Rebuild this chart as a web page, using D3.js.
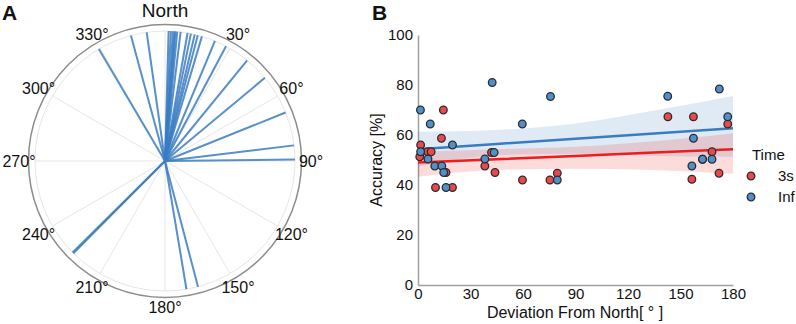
<!DOCTYPE html>
<html lang="en">
<head>
    <meta charset="UTF-8">
    <title></title>
    <style type="text/css">
        html, body { padding:0; margin:0; background:#fff; }
        text { font-family: "Liberation Sans", Arial, sans-serif; fill:#111; }
    </style>
</head>
<body>
<script src="https://d3js.org/d3.v7.min.js"></script>
<script type="text/javascript">
    var width = 796,
        height = 324;

    // panel A: heading directions (deg, clockwise from north)
    var headings = [329.4, 344.8, 351.9, 1.6, 2.6, 3.5, 4.2, 4.6, 5.4, 6.9,
                    10, 11.5, 13.2, 14.6, 16.5, 22.6, 28, 39.2, 50.2, 68.1,
                    83.1, 89.3, 165.3, 170.5, 224.8, 225.3];
    var angleTicks = [30, 60, 90, 120, 150, 180, 210, 240, 270, 300, 330];

    // panel B: deviation from north vs accuracy
    var dev3s = [1.5, 1, 5.5, 7.5, 14.5, 13.4, 10, 16, 19.7, 38.2, 42, 44,
                 59.7, 75.4, 79.6, 142.8, 157.4, 156.5, 162.6, 168, 172, 177];
    var acc3s = [56, 51.3, 53.3, 53.3, 70, 58.7, 39, 45, 39, 47.6, 53, 45,
                 42, 42, 44.7, 67.3, 67.3, 42.3, 50.3, 53.3, 44.7, 64.4];
    var devInf = [1.4, 7, 19.7, 1.5, 5.7, 9.6, 13.6, 14.7, 16, 38.2, 43.5, 42.4,
                  59.6, 75.7, 79.6, 142.7, 172.2, 177, 157.4, 156.5, 162.6, 168];
    var accInf = [70, 64.4, 56, 53.3, 50.4, 47.6, 47.6, 45, 39, 50.4, 53, 81,
                  64.4, 75.4, 42, 75.5, 78.4, 67.3, 58.7, 47.6, 50.3, 50.3];

    // regression fits and confidence bands, read at these x positions
    var fitX = [0, 45, 90, 135, 180];
    var fit3s = [49, 50.3, 51.6, 53, 54.3];
    var lo3s = [43.3, 46, 46.5, 46, 44.5];
    var hi3s = [53.3, 54.3, 55.3, 57.5, 60.7];
    var fitInf = [54.3, 56.4, 58.5, 60.6, 62.7];
    var loInf = [47.3, 51.9, 52.5, 51.6, 51.3];
    var hiInf = [61.3, 62.0, 64.6, 69.8, 75.6];

    var xTicks = [0, 30, 60, 90, 120, 150, 180],
        yTicks = [0, 20, 40, 60, 80, 100];

    var red = '#ee1c1c', blue = '#3a7cc2';
    var redDot = '#e9484c', blueDot = '#4f90cc';

    var svg = d3.select('body').append('svg')
        .attr('width', width)
        .attr('height', height);

    // ---------- panel A ----------
    var cx = 165, cy = 161;
    var rScale = d3.scaleLinear().domain([0, 1]).range([0, 130]);
    var pa = svg.append('g').attr('transform', 'translate(' + cx + ',' + cy + ')');

    function polar(deg, r) {
        var a = deg * Math.PI / 180;
        return [Math.sin(a) * r, -Math.cos(a) * r];
    }

    // grid spokes
    pa.selectAll('line.grid')
        .data([0].concat(angleTicks))
        .enter().append('line')
        .attr('class', 'grid')
        .attr('x1', 0).attr('y1', 0)
        .attr('x2', function(d) { return polar(d, rScale(1))[0]; })
        .attr('y2', function(d) { return polar(d, rScale(1))[1]; })
        .attr('stroke', '#e6e6e6')
        .attr('stroke-width', 1);

    pa.append('circle')
        .attr('r', rScale(1))
        .attr('fill', 'none')
        .attr('stroke', '#e6e6e6');

    pa.append('circle')
        .attr('r', rScale(1.05))
        .attr('fill', 'none')
        .attr('stroke', '#8c8c8c')
        .attr('stroke-width', 1.5);

    pa.selectAll('line.heading')
        .data(headings)
        .enter().append('line')
        .attr('class', 'heading')
        .attr('x1', 0).attr('y1', 0)
        .attr('x2', function(d) { return polar(d, rScale(1))[0]; })
        .attr('y2', function(d) { return polar(d, rScale(1))[1]; })
        .attr('stroke', blue)
        .attr('stroke-opacity', 0.85)
        .attr('stroke-width', 2);

    pa.selectAll('text.tick')
        .data(angleTicks)
        .enter().append('text')
        .attr('class', 'tick')
        .attr('x', function(d) { return polar(d, 146)[0]; })
        .attr('y', function(d) { return polar(d, 146)[1]; })
        .attr('dy', '0.36em')
        .attr('text-anchor', 'middle')
        .style('font-size', '16px')
        .text(function(d) { return d + '°'; });

    pa.append('text')
        .attr('x', 0)
        .attr('y', -151)
        .attr('dy', '0.36em')
        .attr('text-anchor', 'middle')
        .style('font-size', '19px')
        .text('North');

    svg.append('text')
        .attr('x', 2).attr('y', 20)
        .style('font-size', '21px')
        .style('font-weight', 'bold')
        .text('A');

    // ---------- panel B ----------
    var xScale = d3.scaleLinear().domain([0, 180]).range([418, 733]);
    var yScale = d3.scaleLinear().domain([0, 100]).range([285, 35]);

    var xAxis = d3.axisBottom(xScale).tickValues(xTicks).tickSize(0).tickPadding(3);
    var yAxis = d3.axisLeft(yScale).tickValues(yTicks).tickSize(0).tickPadding(5);

    var gx = svg.append('g').attr('transform', 'translate(0,285)').call(xAxis);
    var gy = svg.append('g').attr('transform', 'translate(418,0)').call(yAxis);
    [gx, gy].forEach(function(g) {
        g.select('.domain').attr('stroke', '#a0a0a0').attr('stroke-width', 1.5);
        g.selectAll('.tick text')
            .style('font-family', '"Liberation Sans", Arial, sans-serif')
            .style('font-size', '15px')
            .attr('fill', '#111');
    });

    svg.append('text')
        .attr('x', 575).attr('y', 318)
        .attr('text-anchor', 'middle')
        .style('font-size', '16px')
        .text('Deviation From North[ ° ]');

    svg.append('text')
        .attr('transform', 'translate(382,160) rotate(-90)')
        .attr('text-anchor', 'middle')
        .style('font-size', '16px')
        .text('Accuracy [%]');

    svg.append('text')
        .attr('x', 372).attr('y', 20)
        .style('font-size', '21px')
        .style('font-weight', 'bold')
        .text('B');

    function band(lo, hi) {
        return d3.area()
            .x(function(d, i) { return xScale(fitX[i]); })
            .y0(function(d, i) { return yScale(lo[i]); })
            .y1(function(d, i) { return yScale(hi[i]); })
            .curve(d3.curveMonotoneX)(fitX);
    }
    function fitLine(v) {
        return d3.line()
            .x(function(d, i) { return xScale(fitX[i]); })
            .y(function(d, i) { return yScale(v[i]); })(fitX);
    }

    svg.append('path').attr('d', band(loInf, hiInf))
        .attr('fill', blue).attr('fill-opacity', 0.16);
    svg.append('path').attr('d', band(lo3s, hi3s))
        .attr('fill', red).attr('fill-opacity', 0.16);

    svg.append('path').attr('d', fitLine(fitInf))
        .attr('fill', 'none').attr('stroke', blue).attr('stroke-width', 2.5);
    svg.append('path').attr('d', fitLine(fit3s))
        .attr('fill', 'none').attr('stroke', red).attr('stroke-width', 2.5);

    function dots(xs, ys, fill) {
        svg.append('g').selectAll('circle')
            .data(xs)
            .enter().append('circle')
            .attr('cx', function(d) { return xScale(d); })
            .attr('cy', function(d, i) { return yScale(ys[i]); })
            .attr('r', 3.8)
            .attr('fill', fill)
            .attr('stroke', '#2b2b2b')
            .attr('stroke-width', 1.3);
    }
    dots(dev3s, acc3s, redDot);
    dots(devInf, accInf, blueDot);

    // legend
    var legend = svg.append('g').attr('transform', 'translate(752,0)');
    legend.append('text').attr('x', 0).attr('y', 160)
        .style('font-size', '15px').text('Time');
    var items = [{label: '3s', fill: redDot, y: 176}, {label: 'Inf', fill: blueDot, y: 197}];
    items.forEach(function(it) {
        legend.append('circle')
            .attr('cx', -1).attr('cy', it.y).attr('r', 3.8)
            .attr('fill', it.fill).attr('stroke', '#2b2b2b').attr('stroke-width', 1.3);
        legend.append('text')
            .attr('x', 26).attr('y', it.y).attr('dy', '0.36em')
            .style('font-size', '15px').text(it.label);
    });
</script>
</body>
</html>
